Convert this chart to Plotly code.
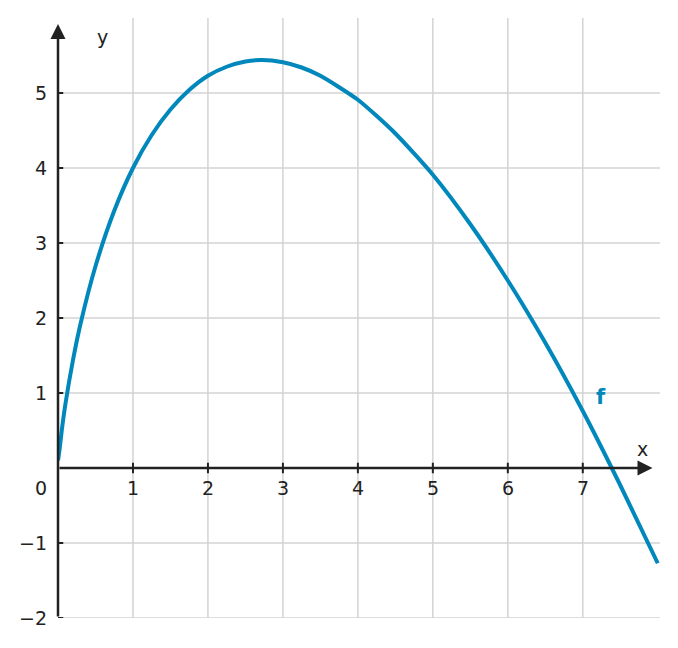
import plotly.graph_objects as go

# points
x_vals = [0.0, 0.02, 0.05, 0.1, 0.2, 0.3, 0.5, 0.75, 1.0, 1.25, 1.5, 1.75, 2.0, 2.25, 2.5, 2.72,
          3.0, 3.25, 3.5, 4.0, 4.5, 5.0, 5.5, 6.0, 6.5, 7.0, 7.5, 8.0]
y_vals = [0.1, 0.24, 0.5, 0.86, 1.44, 1.92, 2.69, 3.43, 4.0, 4.44, 4.78, 5.04, 5.23, 5.35, 5.42, 5.44,
          5.41, 5.34, 5.23, 4.91, 4.46, 3.91, 3.25, 2.5, 1.67, 0.76, -0.23, -1.27]
x_ticks = [1, 2, 3, 4, 5, 6, 7]
y_ticks = [-2, -1, 1, 2, 3, 4, 5]

axis_col = "#222222"
grid_col = "#d3d3d3"
font = dict(family="DejaVu Sans", size=19, color=axis_col)

fig = go.Figure()
fig.add_trace(go.Scatter(x=x_vals, y=y_vals, mode="lines", line=dict(color="#0087bb", width=4, shape="spline", smoothing=0.6),
                         hoverinfo="skip"))

shapes = []
for t in x_ticks:
    shapes.append(dict(type="line", x0=t, x1=t, y0=-2, y1=6, line=dict(color=grid_col, width=1.5), layer="below"))
    shapes.append(dict(type="line", x0=t, x1=t, y0=-0.07, y1=0.07, line=dict(color=axis_col, width=2)))
for t in y_ticks:
    shapes.append(dict(type="line", x0=0, x1=8.03, y0=t, y1=t, line=dict(color=grid_col, width=1.5), layer="below"))
    shapes.append(dict(type="line", x0=0, x1=0.07, y0=t, y1=t, line=dict(color=axis_col, width=2)))

ann = []
for t in x_ticks:
    ann.append(dict(x=t, y=-0.27, text=str(t), showarrow=False, font=font))
for t in y_ticks:
    ann.append(dict(x=0, xref="paper", y=t, text=str(t).replace("-", "\u2212"), showarrow=False,
                    font=font, xanchor="right", xshift=-9))
ann.append(dict(x=0, xref="paper", y=-0.27, text="0", showarrow=False, font=font, xanchor="right", xshift=-9))
ann.append(dict(x=0.6, y=5.75, text="y", showarrow=False, font=font))
ann.append(dict(x=7.8, y=0.25, text="x", showarrow=False, font=font))
ann.append(dict(x=7.24, y=0.95, text="<b>f</b>", showarrow=False,
                font=dict(family="DejaVu Sans", size=21, color="#0087bb")))
# axis arrows
ann.append(dict(x=7.93, y=0, ax=0, ay=0, xref="x", yref="y", axref="x", ayref="y",
                showarrow=True, arrowhead=2, arrowsize=1.2, arrowwidth=2.5, arrowcolor=axis_col, text=""))
ann.append(dict(x=0, y=5.92, ax=0, ay=-2, xref="x", yref="y", axref="x", ayref="y",
                showarrow=True, arrowhead=2, arrowsize=1.2, arrowwidth=2.5, arrowcolor=axis_col, text=""))

fig.update_layout(
    width=678, height=648, margin=dict(l=50, r=26, t=10, b=38),
    plot_bgcolor="white", paper_bgcolor="white", showlegend=False,
    shapes=shapes, annotations=ann,
    xaxis=dict(range=[0, 8.03], showgrid=False, zeroline=False, showticklabels=False, fixedrange=True),
    yaxis=dict(range=[-2, 6.0], showgrid=False, zeroline=False, showticklabels=False, fixedrange=True),
)

fig.write_html("out.html")
